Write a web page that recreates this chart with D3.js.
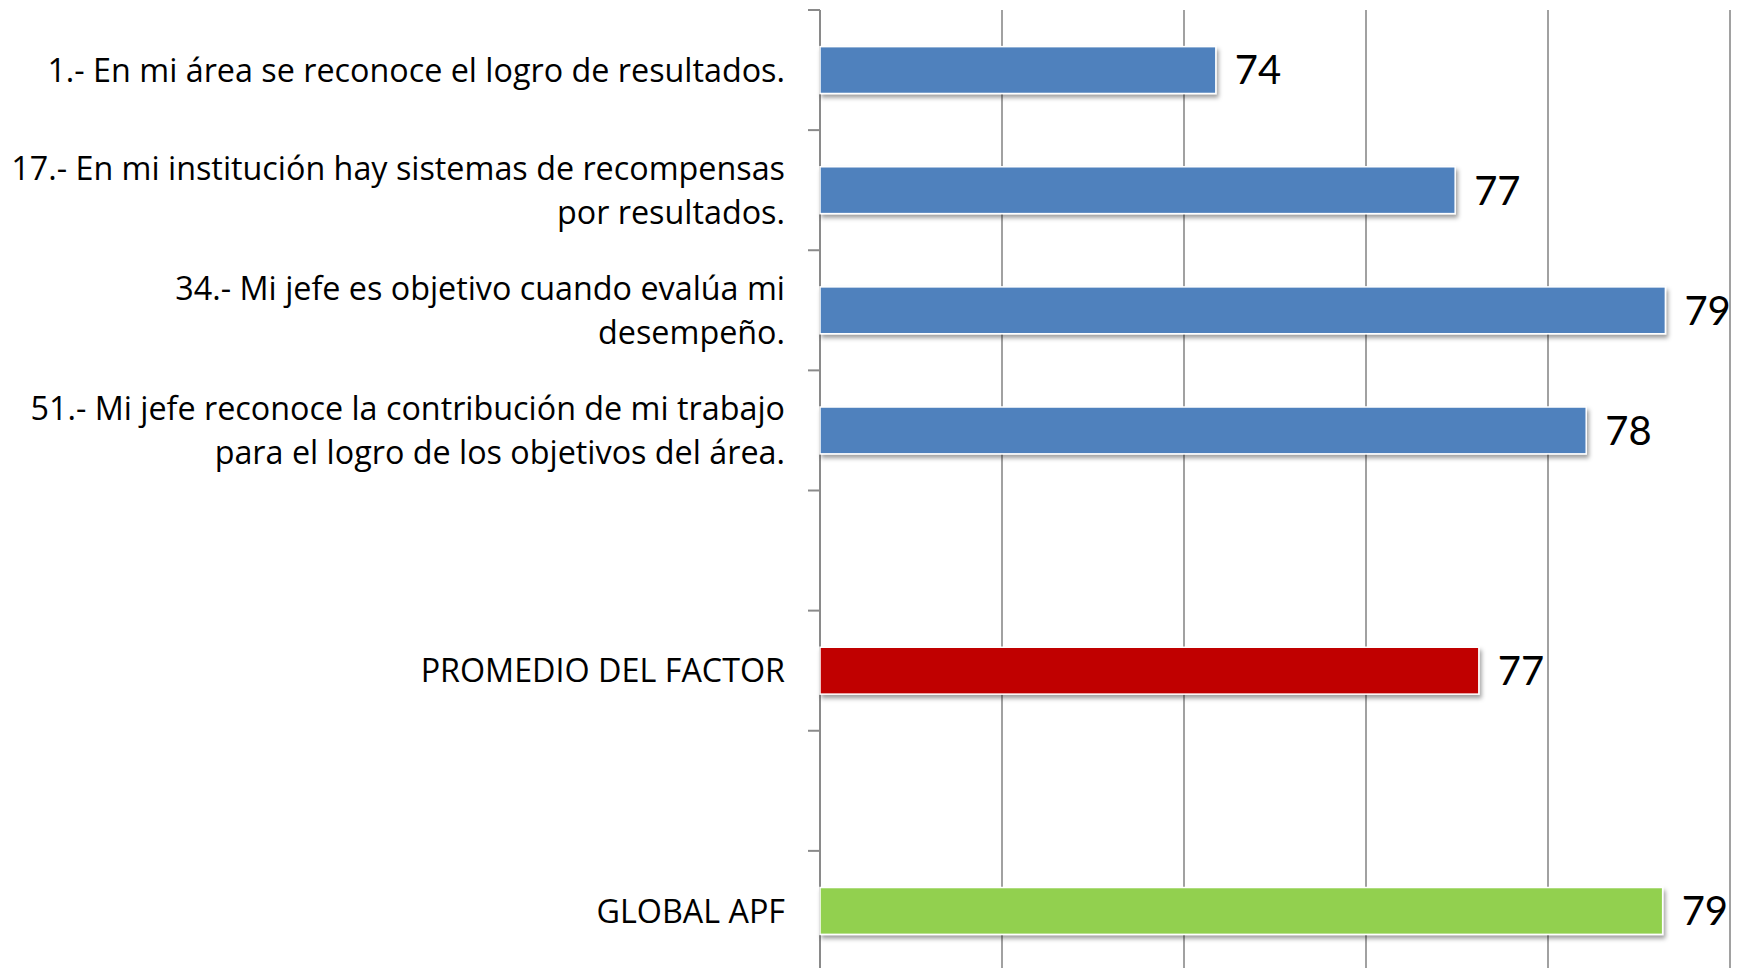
<!DOCTYPE html>
<meta charset="utf-8">
<title>Reconocimiento - barras</title>
<style>
html, body {
  margin: 0;
  background: #fff;
  overflow: hidden;
}
.cat {
  font: 32.3px "Open Sans", Lato, sans-serif;
  fill: #000;
  text-anchor: end;
}
.val {
  font: 40px Lato, "Open Sans", sans-serif;
  fill: #000;
}
</style>
<svg width="1746" height="968"></svg>
<script src="https://d3js.org/d3.v7.min.js"></script>
<script>

// categories as in the sheet (blank rows separate the groups)
var categories = [
  "1.- En mi área se reconoce el logro de resultados.",
  "17.- En mi institución hay sistemas de recompensas\npor resultados.",
  "34.- Mi jefe es objetivo cuando evalúa mi\ndesempeño.",
  "51.- Mi jefe reconoce la contribución de mi trabajo\npara el logro de los objetivos del área.",
  "",
  "PROMEDIO DEL FACTOR",
  "",
  "GLOBAL APF"
];
var values = [74.35, 76.98, 79.29, 78.42, null, 77.24, null, 79.26];
var kinds = ["reactivo", "reactivo", "reactivo", "reactivo", "", "promedio", "", "global"];
var xTicks = [70, 72, 74, 76, 78, 80];

var svg = d3.select("svg"),
    width = +svg.attr("width"),
    height = +svg.attr("height");

var mLeft = 820, mRight = 1730, mTop = 10, mBottom = 971;

var x = d3.scaleLinear().domain([70, 80]).range([mLeft, mRight]);

var y = d3.scaleBand()
    .domain(d3.range(categories.length))
    .range([mTop, mBottom])
    .paddingInner(0.61)
    .paddingOuter(0.305);

var color = d3.scaleOrdinal()
    .domain(["reactivo", "promedio", "global"])
    .range(["#4f81bd", "#c00000", "#92d050"]);

// drop shadow under the bars
var defs = svg.append("defs");
var f = defs.append("filter").attr("id", "shadow")
    .attr("x", "-5%").attr("y", "-30%").attr("width", "110%").attr("height", "170%");
f.append("feDropShadow")
    .attr("dx", 2).attr("dy", 3.5)
    .attr("stdDeviation", 2)
    .attr("flood-color", "#000")
    .attr("flood-opacity", 0.38);

// vertical gridlines
svg.append("g")
  .selectAll("line")
  .data(xTicks.slice(1))
  .enter().append("line")
    .attr("x1", function(d) { return x(d); })
    .attr("x2", function(d) { return x(d); })
    .attr("y1", mTop)
    .attr("y2", height)
    .attr("stroke", "#8a8a8a")
    .attr("stroke-width", 1.6);

// category axis with ticks between the rows
var step = y.step();
var axis = svg.append("g");
axis.append("line")
    .attr("x1", mLeft).attr("x2", mLeft)
    .attr("y1", mTop).attr("y2", height)
    .attr("stroke", "#8a8a8a")
    .attr("stroke-width", 2);
axis.selectAll(".tick")
  .data(d3.range(categories.length + 1))
  .enter().append("line")
    .attr("class", "tick")
    .attr("x1", mLeft - 12).attr("x2", mLeft)
    .attr("y1", function(i) { return mTop + i * step; })
    .attr("y2", function(i) { return mTop + i * step; })
    .attr("stroke", "#8a8a8a")
    .attr("stroke-width", 2);

var rows = d3.range(categories.length).filter(function(i) { return values[i] != null; });

// bars
svg.append("g")
  .selectAll("rect")
  .data(rows)
  .enter().append("rect")
    .attr("x", x(70))
    .attr("y", function(i) { return y(i); })
    .attr("width", function(i) { return x(values[i]) - x(70); })
    .attr("height", y.bandwidth())
    .attr("fill", function(i) { return color(kinds[i]); })
    .attr("stroke", "#fff")
    .attr("stroke-width", 1.5)
    .attr("filter", "url(#shadow)");

// value labels
svg.append("g")
  .selectAll("text")
  .data(rows)
  .enter().append("text")
    .attr("class", "val")
    .attr("x", function(i) { return x(values[i]) + 19; })
    .attr("y", function(i) { return y(i) + y.bandwidth() / 2; })
    .attr("dy", "0.36em")
    .text(function(i) { return d3.format(".0f")(values[i]); });

// category labels, one or two lines
var lineH = 44.5;
var labels = svg.append("g")
  .selectAll("text")
  .data(rows)
  .enter().append("text")
    .attr("class", "cat")
    .attr("y", function(i) { return y(i) + y.bandwidth() / 2; });

labels.each(function(i) {
  var lines = categories[i].split("\n");
  var t = d3.select(this);
  lines.forEach(function(s, k) {
    t.append("tspan")
      .attr("x", 785)
      .attr("dy", k == 0 ? ((0.36 * 32.3) - (lines.length - 1) * lineH / 2) + "px" : lineH + "px")
      .text(s);
  });
});

</script>
